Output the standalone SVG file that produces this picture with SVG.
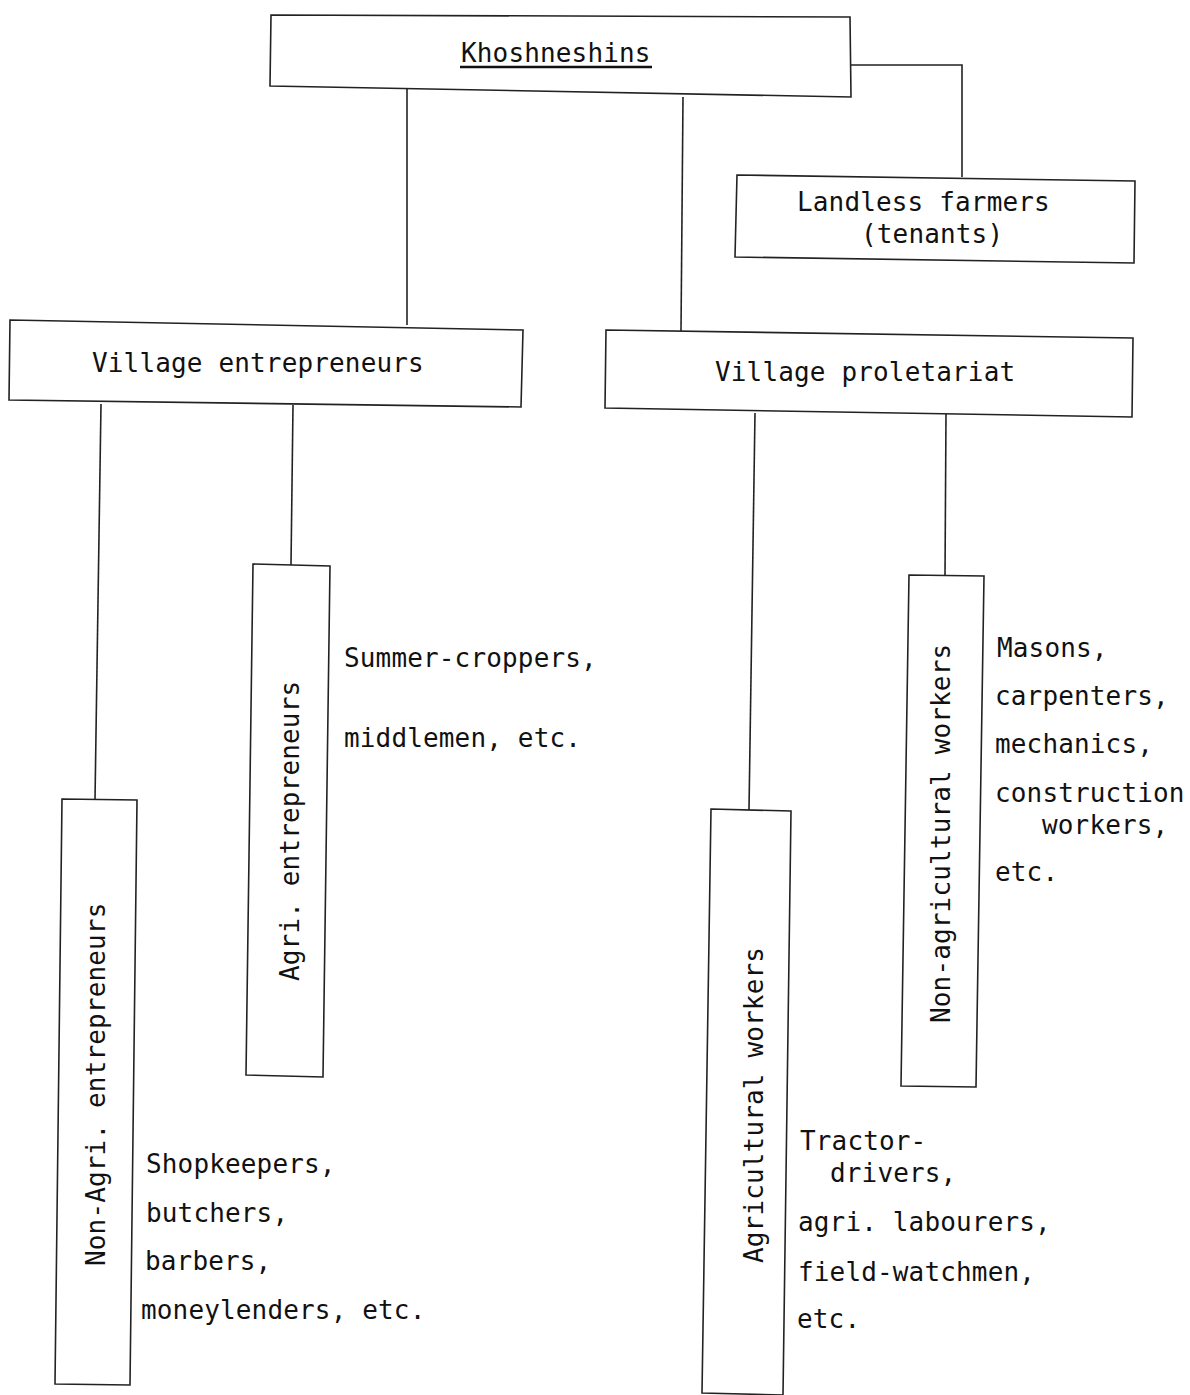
<svg xmlns="http://www.w3.org/2000/svg" width="1190" height="1395" viewBox="0 0 1190 1395">
<style>
.box{fill:none;stroke:#222;stroke-width:1.6}
.ln{fill:none;stroke:#222;stroke-width:1.6}
text{font-family:"DejaVu Sans Mono","Liberation Mono",monospace;font-size:26px;letter-spacing:0.15px;fill:#111}
</style>
<rect width="1190" height="1395" fill="#fff"/>
<g id="connectors">
<polyline class="ln" points="851,65 962,65 962,177"/>
<line class="ln" x1="407" y1="88" x2="407" y2="325"/>
<line class="ln" x1="683" y1="97" x2="681" y2="331"/>
<line class="ln" x1="101" y1="404" x2="95" y2="800"/>
<line class="ln" x1="293" y1="405" x2="291" y2="565"/>
<line class="ln" x1="755" y1="413" x2="749" y2="810"/>
<line class="ln" x1="946" y1="414" x2="945" y2="576"/>
</g>
<g id="khoshneshins">
<polygon class="box" points="271,15 850,17 851,97 270,86"/>
<text x="461" y="62">Khoshneshins</text>
<line x1="460" y1="67" x2="652" y2="67" stroke="#111" stroke-width="2.5"/>
</g>
<g id="landless">
<polygon class="box" points="737,175 1135,181 1134,263 735,257"/>
<text x="797" y="211">Landless farmers</text>
<text x="861" y="243">(tenants)</text>
</g>
<g id="village-entrepreneurs">
<polygon class="box" points="10,320 523,330 521,407 9,400"/>
<text x="92" y="372">Village entrepreneurs</text>
</g>
<g id="village-proletariat">
<polygon class="box" points="606,330 1133,338 1132,417 605,408"/>
<text x="715" y="381">Village proletariat</text>
</g>
<g id="agri-entrepreneurs">
<polygon class="box" points="253,564 330,566 323,1077 246,1075"/>
<text transform="translate(299,981) rotate(-90)">Agri. entrepreneurs</text>
<text x="344" y="667">Summer-croppers,</text>
<text x="344" y="747">middlemen, etc.</text>
</g>
<g id="non-agri-entrepreneurs">
<polygon class="box" points="62,799 137,800 130,1385 55,1384"/>
<text transform="translate(105,1266) rotate(-90)">Non-Agri. entrepreneurs</text>
<text x="146" y="1173">Shopkeepers,</text>
<text x="146" y="1222">butchers,</text>
<text x="145" y="1270">barbers,</text>
<text x="141" y="1319">moneylenders, etc.</text>
</g>
<g id="agricultural-workers">
<polygon class="box" points="711,809 791,811 783,1395 702,1393"/>
<text transform="translate(763,1263) rotate(-90)">Agricultural workers</text>
<text x="800" y="1150">Tractor-</text>
<text x="830" y="1182">drivers,</text>
<text x="798" y="1231">agri. labourers,</text>
<text x="798" y="1281">field-watchmen,</text>
<text x="797" y="1328">etc.</text>
</g>
<g id="non-agricultural-workers">
<polygon class="box" points="909,575 984,576 976,1087 901,1086"/>
<text transform="translate(950,1023) rotate(-90)">Non-agricultural workers</text>
<text x="997" y="657">Masons,</text>
<text x="995" y="705">carpenters,</text>
<text x="995" y="753">mechanics,</text>
<text x="995" y="802">construction</text>
<text x="1042" y="834">workers,</text>
<text x="995" y="881">etc.</text>
</g>
</svg>
